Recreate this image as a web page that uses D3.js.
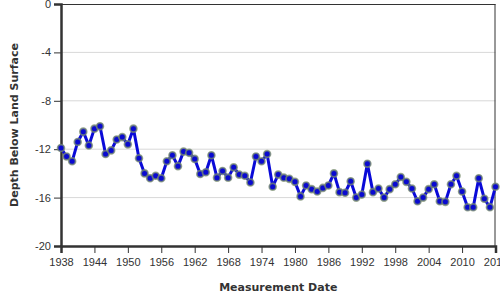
<!DOCTYPE html>
<html>
<head>
<meta charset="utf-8">
<script src="https://cdn.jsdelivr.net/npm/d3@7"></script>
<style>
  body { margin: 0; background: #fff; }
  svg { display: block; font-family: "DejaVu Sans", sans-serif; }
  .tick text { fill: #333; font-size: 11px; }
</style>
</head>
<body>
<script>
// yearly measurements, depth below land surface (ft)
var years = d3.range(1938, 2017);
var depths = [
  -11.9, -12.6, -13.0, -11.4, -10.55, -11.7, -10.3, -10.1, -12.4, -12.1,
  -11.2, -11.0, -11.6, -10.3, -12.75, -14.0, -14.4, -14.2, -14.4, -13.0,
  -12.5, -13.4, -12.2, -12.3, -12.8, -14.05, -13.9, -12.5, -14.35, -13.8,
  -14.35, -13.5, -14.1, -14.2, -14.75, -12.6, -13.0, -12.4, -15.1, -14.1,
  -14.35, -14.45, -14.7, -15.9, -15.0, -15.3, -15.5, -15.2, -15.0, -14.0,
  -15.55, -15.6, -14.65, -16.0, -15.75, -13.2, -15.55, -15.25, -16.0, -15.3,
  -14.9, -14.3, -14.7, -15.25, -16.3, -16.0, -15.3, -14.9, -16.3, -16.35,
  -14.9, -14.2, -15.5, -16.8, -16.8, -14.4, -16.1, -16.8, -15.1
];
var xTicks = d3.range(1938, 2017, 6);
var yTicks = [0, -4, -8, -12, -16, -20];

var width = 500, height = 300;
var margin = { top: 4, right: 4.5, bottom: 54, left: 61 };
var w = width - margin.left - margin.right;
var h = height - margin.top - margin.bottom;

var svg = d3.select("body").append("svg")
  .attr("width", width)
  .attr("height", height);

var g = svg.append("g")
  .attr("transform", "translate(" + margin.left + "," + margin.top + ")");

var x = d3.scaleLinear().domain([1938, 2016]).range([0, w]);
var y = d3.scaleLinear().domain([-20, 0]).range([h, 0]);

// grid lines
g.append("g")
  .selectAll("line")
  .data(yTicks.slice(1, -1))
  .enter().append("line")
  .attr("x1", 0).attr("x2", w)
  .attr("y1", function(d) { return y(d); })
  .attr("y2", function(d) { return y(d); })
  .attr("stroke", "#d8d8d8")
  .attr("stroke-width", 1);

// frame top/right
g.append("line").attr("x1", 0).attr("x2", w).attr("y1", 0.5).attr("y2", 0.5)
  .attr("stroke", "#333").attr("stroke-width", 1);
g.append("line").attr("x1", w - 0.5).attr("x2", w - 0.5).attr("y1", 0).attr("y2", h)
  .attr("stroke", "#333").attr("stroke-width", 1);

var xAxis = g.append("g")
  .attr("transform", "translate(0," + h + ")")
  .call(d3.axisBottom(x).tickValues(xTicks).tickFormat(function(d) { return String(d); })
    .tickSizeOuter(0).tickSize(7).tickPadding(5));
var yAxis = g.append("g")
  .call(d3.axisLeft(y).tickValues(yTicks).tickFormat(function(d) { return String(d); })
    .tickSizeOuter(0).tickSize(7).tickPadding(3));

[xAxis, yAxis].forEach(function(a) {
  a.select(".domain").attr("stroke", "#333").attr("stroke-width", 2.5);
  a.selectAll(".tick line").attr("stroke", "#333").attr("stroke-width", 1);
});

var pts = years.map(function(yr, i) { return { year: yr, depth: depths[i] }; });

var line = d3.line()
  .x(function(d) { return x(d.year); })
  .y(function(d) { return y(d.depth); });

g.append("path")
  .datum(pts)
  .attr("fill", "none")
  .attr("stroke", "#0a0ad8")
  .attr("stroke-width", 3)
  .attr("stroke-linejoin", "round")
  .attr("d", line);

g.selectAll("circle")
  .data(pts)
  .enter().append("circle")
  .attr("cx", function(d) { return x(d.year); })
  .attr("cy", function(d) { return y(d.depth); })
  .attr("r", 3.4)
  .attr("fill", "#0a0ad0")
  .attr("stroke", "rgba(120,140,110,0.75)")
  .attr("stroke-width", 1.8);

// axis titles
svg.append("text")
  .attr("x", margin.left + w / 2)
  .attr("y", 291)
  .attr("text-anchor", "middle")
  .attr("font-size", "11px")
  .attr("font-weight", "bold")
  .attr("fill", "#333")
  .text("Measurement Date");

svg.append("text")
  .attr("transform", "translate(18," + (margin.top + h / 2) + ") rotate(-90)")
  .attr("text-anchor", "middle")
  .attr("font-size", "11px")
  .attr("font-weight", "bold")
  .attr("fill", "#333")
  .text("Depth Below Land Surface");
</script>
</body>
</html>
